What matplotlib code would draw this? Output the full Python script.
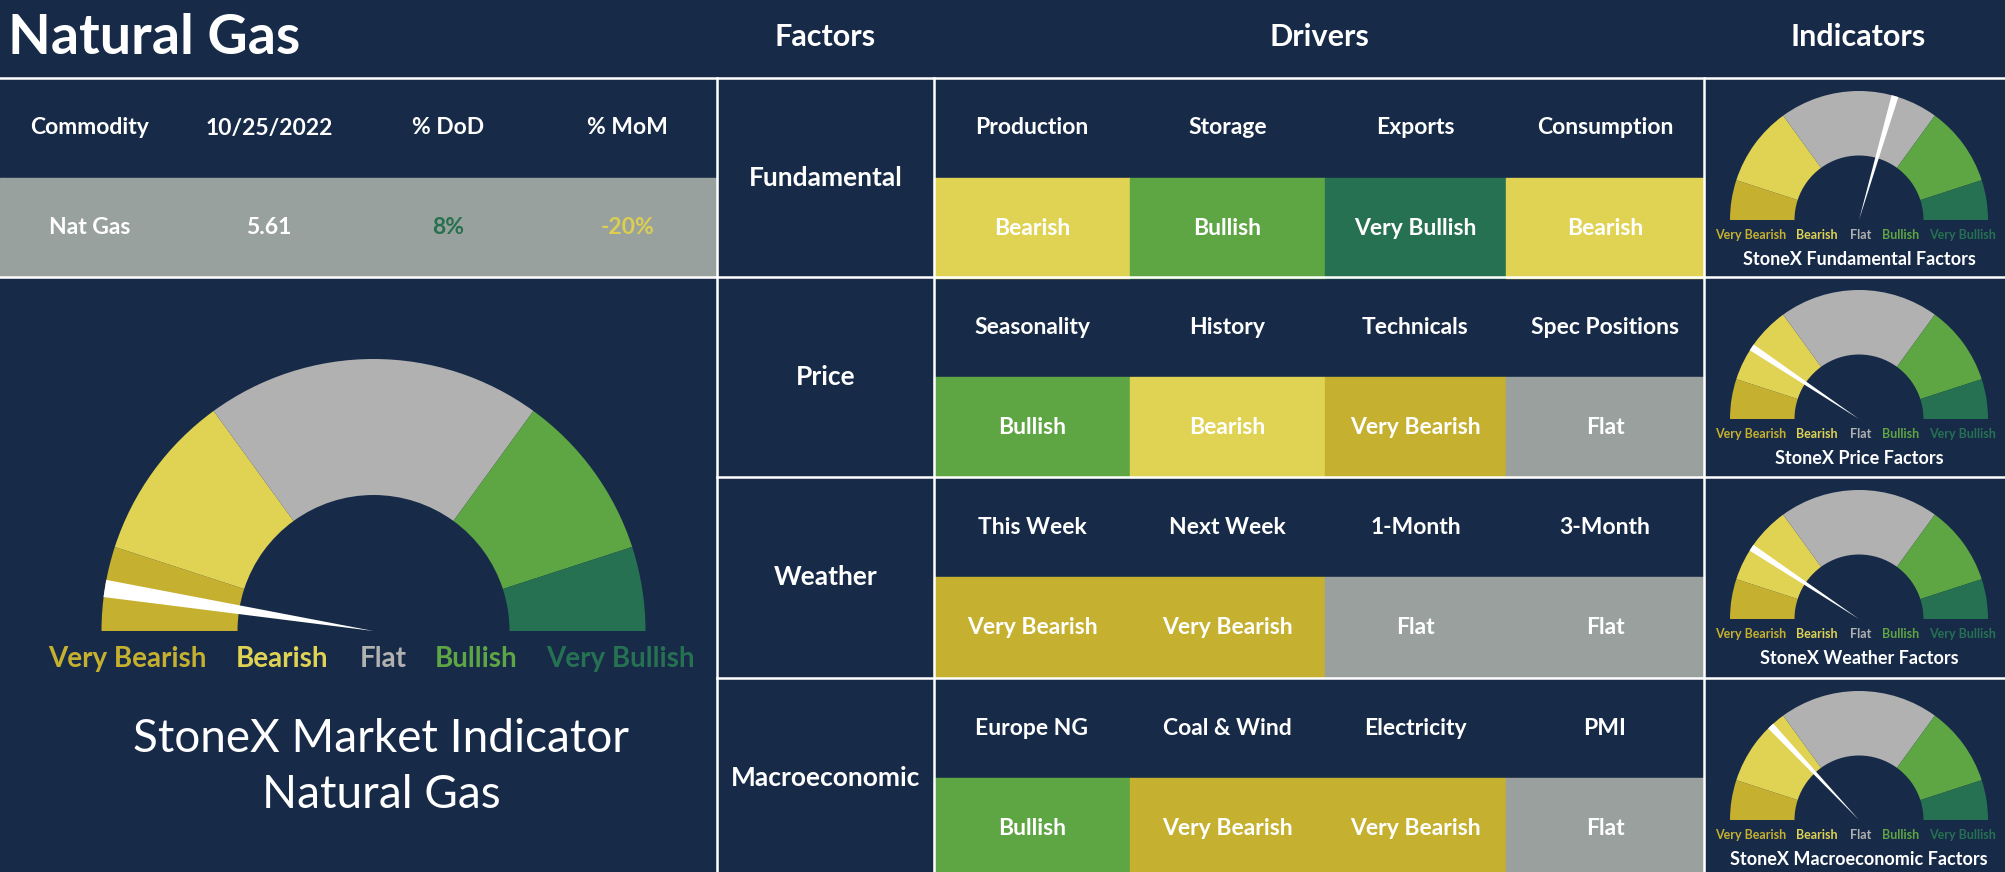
import numpy as np
import matplotlib

matplotlib.use("Agg")
import matplotlib.pyplot as plt
from matplotlib.patches import Rectangle, Wedge, Polygon

# ---- data ----
title = "Natural Gas"
table_cols = ["Commodity", "10/25/2022", "% DoD", "% MoM"]
table_vals = ["Nat Gas", "5.61", "8%", "-20%"]

factors = ["Fundamental", "Price", "Weather", "Macroeconomic"]
drivers = [
    ["Production", "Storage", "Exports", "Consumption"],
    ["Seasonality", "History", "Technicals", "Spec Positions"],
    ["This Week", "Next Week", "1-Month", "3-Month"],
    ["Europe NG", "Coal & Wind", "Electricity", "PMI"],
]
signals = [
    ["Bearish", "Bullish", "Very Bullish", "Bearish"],
    ["Bullish", "Bearish", "Very Bearish", "Flat"],
    ["Very Bearish", "Very Bearish", "Flat", "Flat"],
    ["Bullish", "Very Bearish", "Very Bearish", "Flat"],
]

gauge_labels = ["Very Bearish", "Bearish", "Flat", "Bullish", "Very Bullish"]
gauge_weights = [1, 2, 4, 2, 1]  # share of the half circle per zone
# needle score, -1 = far left, +1 = far right
main_score = -0.90
factor_scores = [0.18, -0.625, -0.627, -0.48]

# ---- styling ----
W, H = 2005, 872
BG = "#172B48"
LINE = "white"
zone_colors = {
    "Very Bearish": "#C5B02F",
    "Bearish": "#E0D354",
    "Flat": "#B1B1B1",
    "Bullish": "#5EA543",
    "Very Bullish": "#267152",
}
cell_colors = dict(zone_colors, Flat="#99A09E")
FONT = ["Lato", "DejaVu Sans"]
plt.rcParams["font.family"] = FONT

fig = plt.figure(figsize=(W / 100, H / 100), dpi=100, facecolor=BG)
ax = fig.add_axes([0, 0, 1, 1])
ax.set_xlim(0, W)
ax.set_ylim(H, 0)
ax.axis("off")
ax.add_patch(Rectangle((0, 0), W, H, color=BG, zorder=0))

row_tops = [78, 277, 477, 678]
row_h = 200
left_w = 717
fac_x = (717, 934)
drv_x = [934, 1130, 1325, 1506, 1704]
ind_x = (1704, W)
CELL = 16.5


def txt(x, y, s, size, color="white", weight="bold", **kw):
    ax.text(x, y, s, fontsize=size, color=color, weight=weight,
            ha="center", va="center", **kw)


def gauge(cx, cy, R, score, needle_w, lab_dy, lab_xs, lab_size):
    r = R * 0.5
    total = sum(gauge_weights)
    a = 180.0
    for lab, w in zip(gauge_labels, gauge_weights):
        span = 180.0 * w / total
        # y axis is flipped, so visual angles are negated
        ax.add_patch(Wedge((cx, cy), R, -a, -(a - span), width=R - r,
                           facecolor=zone_colors[lab], edgecolor="none",
                           zorder=2))
        a -= span
    ang = np.deg2rad(90 - 90 * score)
    d = np.array([np.cos(ang), -np.sin(ang)])
    p = np.array([np.sin(ang), np.cos(ang)])
    end = np.array([cx, cy]) + d * R
    ax.add_patch(Polygon([(cx, cy), end + p * needle_w, end - p * needle_w],
                         closed=True, facecolor="white", edgecolor="none",
                         zorder=3))
    for lab, lx in zip(gauge_labels, lab_xs):
        txt(lx, cy + lab_dy, lab, lab_size, color=zone_colors[lab])


# ---- header ----
ax.text(8, 38, title, fontsize=40, color="white", weight="bold",
        ha="left", va="center")
txt(sum(fac_x) / 2, 37, "Factors", 22)
txt((drv_x[0] + drv_x[-1]) / 2, 37, "Drivers", 22)
txt(1858, 37, "Indicators", 22)

# ---- left table ----
col_w = left_w / len(table_cols)
ax.add_patch(Rectangle((0, 178), left_w, 99, color="#99A19F", zorder=1))
val_colors = ["white", "white", "#27704F", "#DCCF4E"]
for i, (c, v) in enumerate(zip(table_cols, table_vals)):
    x = col_w * (i + 0.5)
    txt(x, 128, c, CELL)
    txt(x, 227, v, CELL, color=val_colors[i])

# ---- main gauge ----
gauge(373.5, 631, 272, main_score, 8.7, 28, [127, 282, 383, 476, 620], 20)
txt(381, 739, "StoneX Market Indicator", 33, weight="normal")
txt(381, 795, "Natural Gas", 33, weight="normal")

# ---- factor rows ----
for k, top in enumerate(row_tops):
    txt(sum(fac_x) / 2, top + 100, factors[k], 19)
    for j in range(4):
        x0, x1 = drv_x[j], drv_x[j + 1]
        sig = signals[k][j]
        h = min(row_h / 2, H - (top + 100))
        ax.add_patch(Rectangle((x0, top + 100), x1 - x0, h,
                               color=cell_colors[sig], zorder=1))
        txt((x0 + x1) / 2, top + 50, drivers[k][j], CELL)
        txt((x0 + x1) / 2, top + 150, sig, CELL)
    gauge(1859, top + 142, 129, factor_scores[k], 3.5, 15,
          [1751, 1817, 1861, 1901, 1963], 9)
    txt(1859, top + 181, f"StoneX {factors[k]} Factors", 13)

# ---- grid lines ----
lw = 1.8
ax.plot([0, W], [78, 78], color=LINE, lw=lw, zorder=5)
ax.plot([0, W], [277, 277], color=LINE, lw=lw, zorder=5)
for y in row_tops[2:]:
    ax.plot([left_w, W], [y, y], color=LINE, lw=lw, zorder=5)
for x in [left_w, fac_x[1], ind_x[0]]:
    ax.plot([x, x], [78, H], color=LINE, lw=lw, zorder=5)

fig.savefig("out.png", dpi=100, facecolor=BG)
